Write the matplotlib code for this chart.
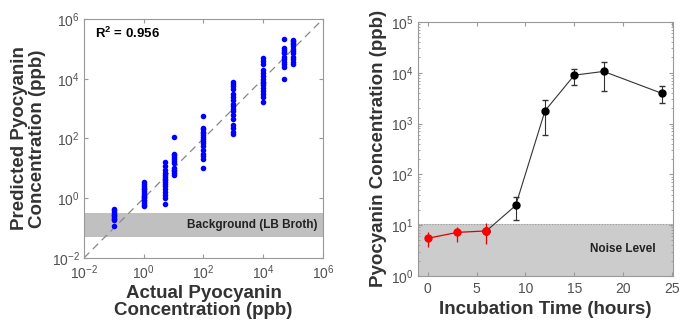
import matplotlib
matplotlib.use("Agg")
import matplotlib.pyplot as plt
import numpy as np
from matplotlib.ticker import LogLocator, NullLocator, FixedLocator

plt.rcParams['font.family'] = ['Liberation Sans', 'DejaVu Sans']
plt.rcParams['mathtext.fontset'] = 'custom'
plt.rcParams['mathtext.rm'] = 'Liberation Sans'
plt.rcParams['mathtext.bf'] = 'Liberation Sans:bold'

# left panel: actual vs predicted concentration (ppb)
actual_levels = [0.1, 1, 5, 10, 100, 1000, 1e4, 5e4, 1e5]
predicted = [
    [0.45, 0.4, 0.35, 0.3, 0.27, 0.25, 0.22, 0.2, 0.18, 0.12],
    [3.5, 3.0, 2.5, 2.2, 2.0, 1.8, 1.5, 1.3, 1.2, 1.1, 1.0, 0.9, 0.8, 0.7, 0.6, 0.55],
    [16, 12, 9, 7, 6, 5, 4.5, 4, 3.5, 3, 2.5, 2, 1.6, 1.3, 1.0, 0.65],
    [110, 30, 27, 24, 20, 17, 15, 10, 9, 8, 7, 6],
    [560, 230, 200, 170, 150, 130, 110, 95, 80, 70, 55, 40, 30, 25, 20, 10],
    [7500, 6500, 5500, 4500, 3000, 2500, 2000, 1400, 1200, 1000, 800, 600, 450, 280, 220, 170, 140],
    [50000, 40000, 30000, 20000, 15000, 12000, 10000, 8000, 7000, 6000, 5000, 4000, 3000, 2500, 1600],
    [220000, 110000, 95000, 80000, 70000, 55000, 45000, 35000, 30000, 25000, 10000],
    [200000, 180000, 160000, 140000, 120000, 100000, 85000, 70000, 55000, 45000, 35000, 30000],
]
background = (0.05, 0.33)
r2_text = "R$^\\mathbf{2}$ = 0.956"

# right panel: time course
time_red = [0, 3, 6]
conc_red = [5.5, 7.2, 7.7]
err_red_lo = [3.7, 4.7, 4.2]
err_red_hi = [7.2, 9.3, 11.1]
time_black = [6, 9, 12, 15, 18, 24]
conc_black = [7.7, 24.4, 1780, 8950, 10600, 3900]
err_black_lo = [np.nan, 12.5, 600, 5700, 4350, 2500]
err_black_hi = [np.nan, 36, 2930, 12000, 16500, 5500]
noise_level = (1, 10.5)

tick_col = '#505050'
lab_col = '#333333'
frame_col = '#999999'

fig = plt.figure(figsize=(6.8, 3.22), dpi=100)

def style(ax):
    for s in ax.spines.values():
        s.set_color(frame_col)
        s.set_linewidth(0.8)
    ax.tick_params(which='both', direction='in', top=True, right=True,
                   color=frame_col, labelcolor=tick_col, labelsize=10, pad=3)
    ax.tick_params(which='major', length=3)
    ax.tick_params(which='minor', length=1.5)

ax1 = fig.add_axes([0.1235, 0.199, 0.3515, 0.742])
ax1.set_xscale('log')
ax1.set_yscale('log')
ax1.set_xlim(1e-2, 1e6)
ax1.set_ylim(1e-2, 1e6)
ax1.axhspan(background[0], background[1], color='#c0c0c0', lw=0, zorder=0)
ax1.plot([1e-2, 1e6], [1e-2, 1e6], ls=(0, (6, 4)), color='#888888', lw=0.9, zorder=1)
for xv, ys in zip(actual_levels, predicted):
    ax1.plot([xv] * len(ys), ys, 'o', color='#0000ff', ms=4, mec='none', zorder=2)
decades = [1e-2, 1e0, 1e2, 1e4, 1e6]
ax1.xaxis.set_major_locator(FixedLocator(decades))
ax1.yaxis.set_major_locator(FixedLocator(decades))
ax1.xaxis.set_minor_locator(NullLocator())
ax1.yaxis.set_minor_locator(NullLocator())
style(ax1)
ax1.tick_params(axis='x', pad=4)
ax1.text(0.045, 0.94, r2_text, transform=ax1.transAxes, fontsize=9.5,
         fontweight='bold', va='center', ha='left')
ax1.text(0.975, np.sqrt(background[0] * background[1]), "Background (LB Broth)",
         transform=ax1.get_yaxis_transform(), fontsize=8.5, fontweight='bold',
         ha='right', va='center', color='#222222')
ax1.set_xlabel("Actual Pyocyanin\nConcentration (ppb)", fontsize=13.5,
               fontweight='bold', color=lab_col, labelpad=2, linespacing=1.0)
ax1.set_ylabel("Predicted Pyocyanin\nConcentration (ppb)", fontsize=13.5,
               fontweight='bold', color=lab_col, labelpad=4, linespacing=1.05)

ax2 = fig.add_axes([0.6147, 0.143, 0.375, 0.789])
ax2.set_yscale('log')
ax2.set_xlim(-1, 25.1)
ax2.set_ylim(1, 1e5)
ax2.axhspan(noise_level[0], noise_level[1], color='#cccccc', lw=0, zorder=0)
ax2.axhline(noise_level[1], color='#999999', lw=0.8, ls=(0, (1, 1.5)), zorder=0.5)
cb = np.array(conc_black)
ax2.errorbar(time_black, conc_black,
             yerr=[cb - np.array(err_black_lo), np.array(err_black_hi) - cb],
             color='#333333', ecolor='#333333', lw=0.8, elinewidth=0.8, capsize=2,
             marker='o', ms=5, mfc='black', mec='black', zorder=2)
cr = np.array(conc_red)
ax2.errorbar(time_red, conc_red,
             yerr=[cr - np.array(err_red_lo), np.array(err_red_hi) - cr],
             color='#e00000', ecolor='#e00000', lw=0.9, elinewidth=0.9, capsize=0,
             marker='o', ms=5, mfc='#ff0000', mec='#ff0000', zorder=3)
ax2.set_xticks([0, 5, 10, 15, 20, 25])
ax2.yaxis.set_major_locator(LogLocator(base=10, numticks=10))
ax2.yaxis.set_minor_locator(LogLocator(base=10, subs=np.arange(2, 10), numticks=10))
style(ax2)
ax2.tick_params(axis='x', pad=4)
ax2.text(0.93, 3.4, "Noise Level", transform=ax2.get_yaxis_transform(),
         fontsize=8.5, fontweight='bold', ha='right', va='center', color='#222222')
ax2.set_xlabel("Incubation Time (hours)", fontsize=13.5, fontweight='bold',
               color=lab_col, labelpad=4)
ax2.set_ylabel("Pyocyanin Concentration (ppb)", fontsize=13.5, fontweight='bold',
               color=lab_col, labelpad=3)

fig.savefig("out.png", dpi=100)
